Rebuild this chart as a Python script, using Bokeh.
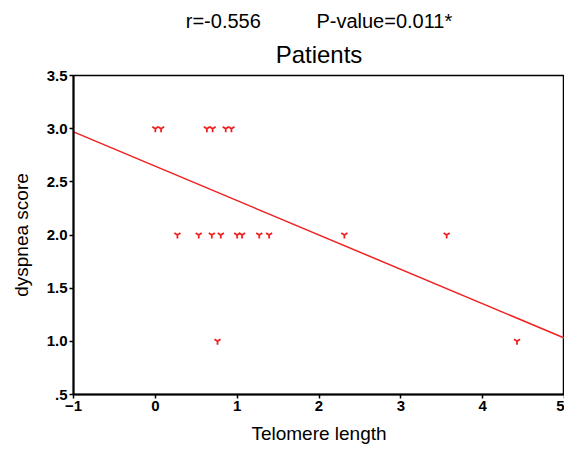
from bokeh.plotting import figure
from bokeh.models import Range1d, Title, FixedTicker
from bokeh.embed import file_html
from bokeh.resources import INLINE

# Data
telomere_length = [0.00, 0.07, 0.63, 0.70, 0.86, 0.93,
                   0.27, 0.53, 0.69, 0.80, 1.00, 1.06, 1.27, 1.39, 2.31, 3.56,
                   0.76, 4.42]
dyspnea_score = [3.0, 3.0, 3.0, 3.0, 3.0, 3.0,
                 2.0, 2.0, 2.0, 2.0, 2.0, 2.0, 2.0, 2.0, 2.0, 2.0,
                 1.0, 1.0]
fit_x = [-1.0, 5.0]
fit_y = [2.97, 1.03]

x_ticks = [-1, 0, 1, 2, 3, 4, 5]
y_ticks = [0.5, 1.0, 1.5, 2.0, 2.5, 3.0, 3.5]
y_tick_labels = [".5", "1.0", "1.5", "2.0", "2.5", "3.0", "3.5"]

FONT = "Liberation Sans"
RED = "#f02020"
NB = "\u00a0"

p = figure(width=564, height=446, output_backend="svg", toolbar_location=None,
           x_range=Range1d(-1, 5), y_range=Range1d(0.5, 3.5),
           min_border_left=73, min_border_right=0, min_border_bottom=10, min_border_top=75)

p.title = Title(text="r=-0.556" + NB * 10 + "P-value=0.011*", align="center", text_font=FONT,
                text_font_size="20px", text_font_style="normal", text_color="black",
                standoff=0)
p.add_layout(Title(text="Patients", align="center", text_font=FONT,
                   text_font_size="24px", text_font_style="normal", text_color="black",
                   standoff=15),
             "above")

p.xgrid.visible = False
p.ygrid.visible = False
p.outline_line_color = "black"
p.outline_line_width = 1.5
p.outline_line_alpha = 1.0

for ax in (p.xaxis[0], p.yaxis[0]):
    ax.axis_line_color = "black"
    ax.axis_line_width = 2
    ax.major_tick_line_color = "black"
    ax.major_tick_line_width = 1.5
    ax.major_tick_in = 0
    ax.major_tick_out = 4
    ax.minor_tick_line_color = None
    ax.major_label_text_font = FONT
    ax.major_label_text_font_size = "15px"
    ax.major_label_text_font_style = "bold"
    ax.major_label_text_color = "black"
    ax.axis_label_text_font = FONT
    ax.axis_label_text_font_size = "19px"
    ax.axis_label_text_font_style = "normal"
    ax.axis_label_text_color = "black"
    ax.major_label_standoff = 2

p.xaxis.ticker = FixedTicker(ticks=x_ticks)
p.yaxis.ticker = FixedTicker(ticks=y_ticks)
p.yaxis.major_label_overrides = {t: l for t, l in zip(y_ticks, y_tick_labels)}
p.xaxis.axis_label = "Telomere length"
p.yaxis.axis_label = "dyspnea score"
p.xaxis.axis_label_standoff = 9
p.yaxis.axis_label_standoff = 12

p.line(fit_x, fit_y, line_color=RED, line_width=1.5)
p.scatter(telomere_length, dyspnea_score, marker="y", size=7,
          line_color=RED, line_width=1.8)

open("out.html", "w").write(file_html(p, INLINE))
